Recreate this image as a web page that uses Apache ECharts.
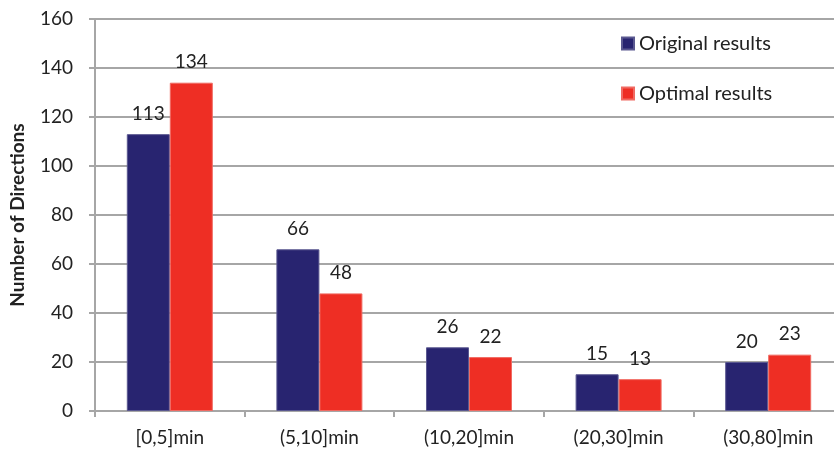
<!DOCTYPE html>
<html>
<head>
<meta charset="utf-8">
<script src="https://cdn.jsdelivr.net/npm/echarts@6/dist/echarts.min.js"></script>
<style>
  html, body { margin: 0; padding: 0; background: #fff; }
  #chart { width: 834px; height: 453px; }
</style>
</head>
<body>
<div id="chart"></div>
<script>
// Time ranges on the x axis
const categories = ['[0,5]min', '(5,10]min', '(10,20]min', '(20,30]min', '(30,80]min'];
// Counts of directions per range
const originalResults = [113, 66, 26, 15, 20];
const optimalResults = [134, 48, 22, 13, 23];
// Value axis ticks
const yTicks = [0, 20, 40, 60, 80, 100, 120, 140, 160];

const FONT = 'Lato';
const gridColor = '#a6a6a6';

const chart = echarts.init(document.getElementById('chart'), null, { renderer: 'canvas' });

const labelStyle = {
  show: true,
  position: 'top',
  distance: 11,
  fontFamily: FONT,
  fontSize: 19,
  color: '#222'
};

const legendText = { fontFamily: FONT, fontSize: 20, color: '#222', lineHeight: 19 };

chart.setOption({
  animation: false,
  backgroundColor: '#fff',
  textStyle: { fontFamily: FONT },
  // the plot runs slightly past the right edge of the canvas
  grid: { left: 95, top: 19, width: 748, height: 392, containLabel: false, outerBoundsMode: 'none' },
  legend: [
    {
      data: ['Original results'],
      left: 616, top: 28.5,
      itemWidth: 12, itemHeight: 12,
      icon: 'rect',
      textStyle: legendText
    },
    {
      data: ['Optimal results'],
      left: 616, top: 78.5,
      itemWidth: 12, itemHeight: 12,
      icon: 'rect',
      textStyle: legendText
    }
  ],
  xAxis: {
    type: 'category',
    data: categories,
    axisLine: { show: true, lineStyle: { color: gridColor, width: 2 } },
    axisTick: { show: true, length: 6, lineStyle: { color: gridColor, width: 2 } },
    axisLabel: { fontFamily: FONT, fontSize: 19, color: '#222', margin: 17 }
  },
  yAxis: {
    type: 'value',
    min: yTicks[0],
    max: yTicks[yTicks.length - 1],
    interval: yTicks[1] - yTicks[0],
    name: 'Number of Directions',
    nameLocation: 'middle',
    nameGap: 68,
    nameTextStyle: { fontFamily: FONT, fontSize: 19, fontWeight: 'bold', color: '#222' },
    axisLine: { show: true, lineStyle: { color: gridColor, width: 2 } },
    axisTick: { show: true, length: 6, lineStyle: { color: gridColor, width: 2 } },
    axisLabel: { fontFamily: FONT, fontSize: 19, color: '#222', margin: 22 },
    splitLine: { show: true, lineStyle: { color: gridColor, width: 2 } }
  },
  series: [
    {
      name: 'Original results',
      type: 'bar',
      data: originalResults,
      barWidth: 43,
      barGap: '0%',
      itemStyle: { color: '#282470', borderColor: '#5a5890', borderWidth: 1 },
      label: labelStyle
    },
    {
      name: 'Optimal results',
      type: 'bar',
      data: optimalResults,
      barWidth: 43,
      itemStyle: { color: '#ee2e24', borderColor: '#f06a62', borderWidth: 1 },
      label: labelStyle
    }
  ]
});
</script>
</body>
</html>
